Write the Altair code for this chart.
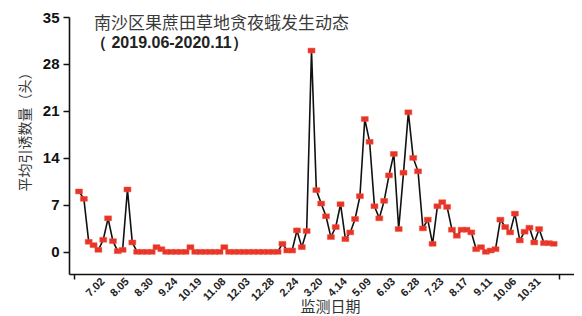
import altair as alt
import pandas as pd

# average trapped moths per monitoring period (index 0..98)
values = [9.0, 7.9, 1.5, 1.0, 0.3, 1.8, 5.0, 1.6, 0.1, 0.3, 9.3, 1.4,
          0.0, 0.0, 0.0, 0.0, 0.7, 0.4, 0.0, 0.0, 0.0, 0.0, 0.0, 0.7,
          0.0, 0.0, 0.0, 0.0, 0.0, 0.0, 0.7, 0.0, 0.0, 0.0, 0.0, 0.0,
          0.0, 0.0, 0.0, 0.0, 0.0, 0.0,
          1.2, 0.2, 0.2, 3.2, 0.7, 3.1,
          30.0, 9.2, 7.2, 5.3, 2.2, 3.7, 7.1, 1.9, 2.9, 4.9,
          8.3, 19.8, 16.4, 6.8, 5.0, 7.6, 11.4, 14.6, 3.4, 11.8,
          20.8, 14.0, 12.0, 3.5, 4.8, 1.2, 6.8, 7.4, 6.7, 3.3,
          2.4, 3.3, 3.3, 2.9, 0.4, 0.7, 0.0, 0.2, 0.4, 4.8,
          3.7, 2.9, 5.7, 1.7, 3.0, 3.6, 1.4, 3.4, 1.3, 1.3, 1.2]
periods = list(range(len(values)))

tick_labels = ["7.02", "8.05", "8.30", "9.24", "10.19", "11.08", "12.03", "12.28",
               "2.24", "3.20", "4.14", "5.09", "6.03", "6.28", "7.23", "8.17",
               "9.11", "10.06", "10.31"]
tick_positions = [5, 10, 15, 20, 25, 30, 35, 40, 45, 50, 55, 60, 65, 70, 75, 80,
                  85, 90, 95]
axis_ends = [-1, 99]
y_ticks = [0, 7, 14, 21, 28, 35]

title_line1 = "南沙区果蔗田草地贪夜蛾发生动态"
title_line2 = "（ 2019.06-2020.11）"
y_title = "平均引诱数量（头）"
x_title = "监测日期"

df = pd.DataFrame({"period": periods, "value": values})
labels_df = pd.DataFrame({"period": tick_positions, "label": tick_labels})

W, H = 505, 257

x_scale = alt.Scale(domain=[-2.07, 102.2], nice=False, zero=False)

x_axis = alt.Axis(
    values=axis_ends,
    labels=False,
    tickSize=5,
    tickWidth=1.5,
    tickColor="#111111",
    domainColor="#111111",
    domainWidth=1.6,
    grid=False,
    title=x_title,
    titleFont="Noto Sans CJK SC",
    titleFontSize=15,
    titleFontWeight="normal",
    titleColor="#333333",
    titleX=261,
    titleY=40,
    titleAlign="center",
    titleBaseline="bottom",
    titleAngle=0,
)

y_axis = alt.Axis(
    values=y_ticks,
    labelFont="Liberation Sans",
    labelFontWeight="bold",
    labelFontSize=15,
    labelColor="#111111",
    labelPadding=4,
    tickSize=6,
    tickWidth=1.5,
    tickColor="#111111",
    domainColor="#111111",
    domainWidth=1.6,
    grid=False,
    title=y_title,
    titleFont="Noto Sans CJK SC",
    titleFontSize=14,
    titleFontWeight="normal",
    titleColor="#333333",
    titleAngle=270,
    titleX=-44,
    titleY=111,
    titleAlign="center",
    titleBaseline="middle",
)

base = alt.Chart(df).encode(
    x=alt.X("period:Q", scale=x_scale, axis=x_axis),
    y=alt.Y("value:Q", scale=alt.Scale(domain=[-3.3, 35], nice=False, zero=False),
            axis=y_axis),
)

line = base.mark_line(color="#111111", strokeWidth=1.6)

rect_shape = "M-1,-0.7L1,-0.7L1,0.7L-1,0.7Z"
points = base.mark_point(
    shape=rect_shape, size=49, filled=True, fill="#e8322a", opacity=1,
    stroke="#f05a3c", strokeWidth=0.5,
)

# rotated x tick labels drawn through the same x scale
xlabels = alt.Chart(labels_df).mark_text(
    angle=315, align="right", baseline="middle", font="Liberation Sans",
    fontWeight="bold", fontSize=11, color="#222222",
).encode(
    x=alt.X("period:Q", scale=x_scale, axis=x_axis),
    y=alt.value(H + 6),
    text="label:N",
)

t1 = alt.Chart(pd.DataFrame({"text": [title_line1]})).mark_text(
    font="Noto Sans CJK SC", fontSize=17, color="#3a3a3a", align="left",
    baseline="middle",
).encode(x=alt.value(25), y=alt.value(7), text="text:N")

t2 = alt.Chart(pd.DataFrame({"text": [title_line2]})).mark_text(
    font="Liberation Sans", fontSize=16, fontWeight="bold", color="#222222",
    align="left", baseline="middle",
).encode(x=alt.value(22), y=alt.value(26), text="text:N")

chart = alt.layer(line, points, xlabels, t1, t2).properties(
    width=W, height=H,
    autosize=alt.AutoSizeParams(type="none"),
    padding={"left": 61, "top": 9, "right": 0, "bottom": 42},
    background="white",
).configure_view(stroke=None)

chart.save("out.html", embed_options={"renderer": "svg", "actions": False})
